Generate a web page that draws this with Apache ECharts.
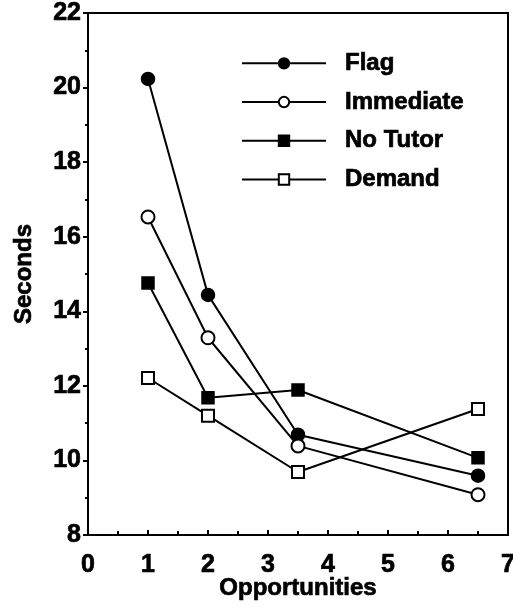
<!DOCTYPE html>
<html><head><meta charset="utf-8">
<script src="https://cdn.jsdelivr.net/npm/echarts@6/dist/echarts.min.js"></script>
<style>html,body{margin:0;padding:0;background:#fff}#c{width:513px;height:604px}</style>
</head><body><div id="c"></div>
<script>
var opportunities = [1, 2, 3.5, 6.5];
var flag = [20.23, 14.44, 10.69, 9.59];
var immediate = [16.53, 13.29, 10.39, 9.08];
var noTutor = [14.76, 11.68, 11.89, 10.07];
var demand = [12.21, 11.20, 9.69, 11.38];
var seriesNames = ['Flag', 'Immediate', 'No Tutor', 'Demand'];
var symbols = ['circle', 'emptyCircle', 'rect', 'emptyRect'];
var values = [flag, immediate, noTutor, demand];

var font = '"Liberation Sans", Arial, sans-serif';
var heavy = {fontFamily: font, fontWeight: 'bold', color: '#000', textBorderColor: '#000', textBorderWidth: 0.7};
function ts(size, extra){ var o = Object.assign({}, heavy, {fontSize: size}); return Object.assign(o, extra || {}); }
function pairs(v){ return opportunities.map(function(x,i){ return [x, v[i]]; }); }
var series = values.map(function(v, k){
  return {
    name: seriesNames[k], type: 'line', data: pairs(v),
    symbol: symbols[k], symbolSize: (k >= 2 ? 12 : 13),
    lineStyle: {color: '#000', width: 2},
    itemStyle: {color: '#000', borderColor: '#000', borderWidth: 1.5},
    emphasis: {disabled: true}, animation: false
  };
});
var chart = echarts.init(document.getElementById('c'));
chart.setOption({
  backgroundColor: '#fff',
  animation: false,
  grid: {left: 88, right: 5, top: 13, bottom: 69, show: true, borderColor: '#000', borderWidth: 2,
         backgroundColor: 'transparent', containLabel: false, outerBoundsMode: 'none'},
  legend: {
    data: seriesNames, orient: 'vertical', left: 241, top: 51, padding: 0,
    itemWidth: 84, itemHeight: 13, itemGap: 14,
    textStyle: ts(24, {padding: [0,0,0,14]}),
    selectedMode: false
  },
  xAxis: {
    type: 'value', min: 0, max: 7, interval: 1,
    name: 'Opportunities', nameLocation: 'middle', nameGap: 44, nameMoveOverlap: false,
    nameTextStyle: ts(24, {lineHeight: 18}),
    axisLine: {lineStyle: {color: '#000', width: 2}},
    axisTick: {inside: true, length: 5, lineStyle: {color: '#000', width: 2}},
    minorTick: {show: true, splitNumber: 2, length: 4, lineStyle: {color: '#000', width: 2}},
    axisLabel: ts(25, {margin: 21, lineHeight: 18}),
    splitLine: {show: false}
  },
  yAxis: {
    type: 'value', min: 8, max: 22, interval: 2,
    name: 'Seconds', nameLocation: 'middle', nameGap: 52, nameRotate: 90,
    nameTextStyle: ts(24),
    axisLine: {lineStyle: {color: '#000', width: 2}},
    axisTick: {inside: false, length: 5, lineStyle: {color: '#000', width: 2}},
    minorTick: {show: true, splitNumber: 2, length: 3, lineStyle: {color: '#000', width: 2}},
    axisLabel: ts(25, {margin: 7}),
    splitLine: {show: false}
  },
  series: series
});
</script></body></html>
